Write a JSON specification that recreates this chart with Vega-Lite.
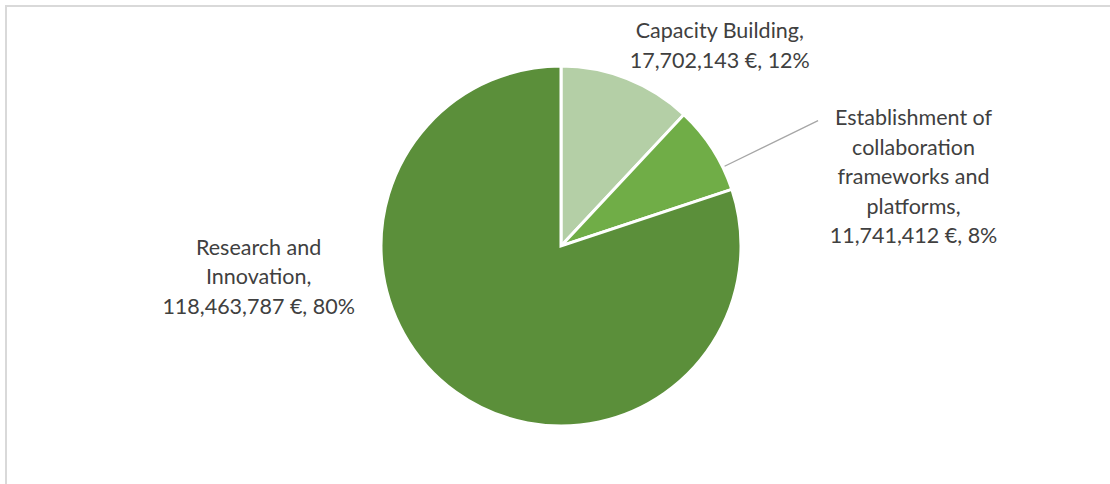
{
  "$schema": "https://vega.github.io/schema/vega-lite/v6.json",
  "width": 1110,
  "height": 480,
  "autosize": {"type": "none"},
  "padding": {"left": 6, "top": 6, "right": 0, "bottom": 0},
  "background": "white",
  "view": {"stroke": "#D9D9D9", "strokeWidth": 2},
  "data": {
    "values": [
      {"cat": "Capacity Building", "amount": 17702143, "ord": 1, "label": "Capacity Building,\n17,702,143 €, 12%"},
      {"cat": "Establishment of collaboration frameworks and platforms", "amount": 11741412, "ord": 2, "label": "Establishment of\ncollaboration\nframeworks and\nplatforms,\n11,741,412 €, 8%"},
      {"cat": "Research and Innovation", "amount": 118463787, "ord": 3, "label": "Research and\nInnovation,\n118,463,787 €, 80%"}
    ]
  },
  "layer": [
    {
      "mark": {"type": "arc", "radius": 180, "stroke": "white", "strokeWidth": 3},
      "encoding": {
        "theta": {"field": "amount", "type": "quantitative", "stack": true},
        "order": {"field": "ord", "type": "quantitative"},
        "color": {
          "field": "cat",
          "type": "nominal",
          "scale": {
            "domain": ["Capacity Building", "Establishment of collaboration frameworks and platforms", "Research and Innovation"],
            "range": ["#B4CFA6", "#70AD47", "#5B8F3A"]
          },
          "legend": null
        }
      }
    },
    {
      "transform": [{"filter": "datum.ord === 2"}],
      "mark": {"type": "arc", "filled": false, "stroke": "#A6A6A6", "strokeWidth": 1.3},
      "encoding": {
        "theta": {"value": 1.117},
        "theta2": {"value": 1.117},
        "radius": {"value": 286},
        "radius2": {"value": 182}
      }
    },
    {
      "mark": {"type": "text", "radius": 220, "dx": 78, "dy": -9, "font": "Lato", "fontSize": 21.5, "lineHeight": 29.5, "lineBreak": "\n", "align": "center", "baseline": "middle", "color": "#404040"},
      "encoding": {
        "theta": {"field": "amount", "type": "quantitative", "stack": true},
        "order": {"field": "ord", "type": "quantitative"},
        "text": {"condition": {"test": "datum.ord === 1", "field": "label"}, "value": ""}
      }
    },
    {
      "mark": {"type": "text", "radius": 250, "dx": 142, "dy": 8, "font": "Lato", "fontSize": 21.5, "lineHeight": 29.5, "lineBreak": "\n", "align": "center", "baseline": "middle", "color": "#404040"},
      "encoding": {
        "theta": {"field": "amount", "type": "quantitative", "stack": true},
        "order": {"field": "ord", "type": "quantitative"},
        "text": {"condition": {"test": "datum.ord === 2", "field": "label"}, "value": ""}
      }
    },
    {
      "mark": {"type": "text", "radius": 250, "dx": -156, "dy": -200, "font": "Lato", "fontSize": 21.5, "lineHeight": 29.5, "lineBreak": "\n", "align": "center", "baseline": "middle", "color": "#404040"},
      "encoding": {
        "theta": {"field": "amount", "type": "quantitative", "stack": true},
        "order": {"field": "ord", "type": "quantitative"},
        "text": {"condition": {"test": "datum.ord === 3", "field": "label"}, "value": ""}
      }
    }
  ]
}
